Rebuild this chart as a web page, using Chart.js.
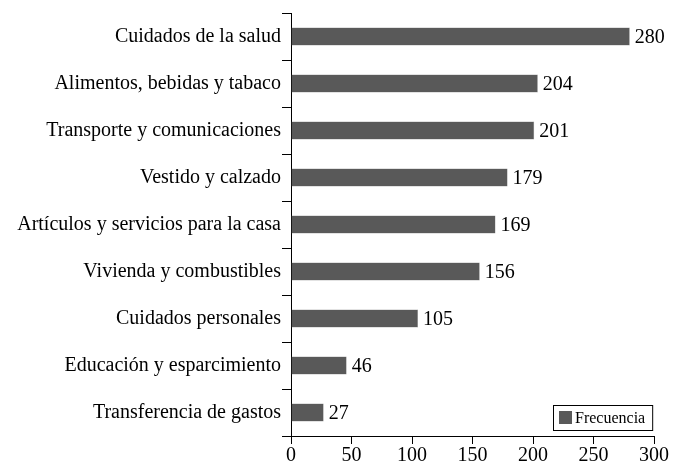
<!DOCTYPE html>
<html>
<head>
<meta charset="utf-8">
<script src="https://cdn.jsdelivr.net/npm/chart.js@4/dist/chart.umd.min.js"></script>
<style>
  html, body { margin: 0; padding: 0; background: #fff; }
  #wrap { width: 683px; height: 464px; }
</style>
</head>
<body>
<div id="wrap"><canvas id="gastosChart" width="683" height="464"></canvas></div>
<script>
const categories = [
    "Cuidados de la salud",
    "Alimentos, bebidas y tabaco",
    "Transporte y comunicaciones",
    "Vestido y calzado",
    "Artículos y servicios para la casa",
    "Vivienda y combustibles",
    "Cuidados personales",
    "Educación y esparcimiento",
    "Transferencia de gastos",
];
const frecuencia = [280, 204, 201, 179, 169, 156, 105, 46, 27];
const xTicks = [0, 50, 100, 150, 200, 250, 300];

const FONT = "'Liberation Serif', 'Times New Roman', serif";

// value labels at the end of each bar
const valueLabels = {
    id: "valueLabels",
    afterDatasetsDraw(chart) {
        const ctx = chart.ctx;
        const meta = chart.getDatasetMeta(0);
        ctx.save();
        ctx.font = "20px " + FONT;
        ctx.fillStyle = "#000";
        ctx.textBaseline = "middle";
        ctx.textAlign = "left";
        meta.data.forEach((bar, i) => {
            ctx.fillText(String(frecuencia[i]), bar.x + 5, bar.y + 1);
        });
        ctx.restore();
    }
};

// boxed legend inside the plot, bottom right
const boxLegend = {
    id: "boxLegend",
    afterDraw(chart) {
        const ctx = chart.ctx;
        const area = chart.chartArea;
        const ds = chart.data.datasets[0];
        ctx.save();
        ctx.font = "16px " + FONT;
        const tw = ctx.measureText(ds.label).width;
        const w = tw + 29, h = 25;
        const x = Math.round(area.right - 2 - w), y = Math.round(area.bottom - 6 - h);
        ctx.fillStyle = "#fff";
        ctx.fillRect(x, y, w, h);
        ctx.strokeStyle = "#000";
        ctx.lineWidth = 1;
        ctx.strokeRect(x + 0.5, y + 0.5, w, h);
        ctx.fillStyle = ds.backgroundColor;
        ctx.fillRect(x + 6, y + 6, 13, 13);
        ctx.fillStyle = "#000";
        ctx.textBaseline = "middle";
        ctx.fillText(ds.label, x + 22, y + h / 2 + 1);
        ctx.restore();
    }
};

const ctx = document.getElementById("gastosChart").getContext("2d");

new Chart(ctx, {
    type: "bar",
    data: {
        labels: categories,
        datasets: [
            {
                label: "Frecuencia",
                data: frecuencia,
                backgroundColor: "#595959",
                borderColor: "#8a8a8a",
                borderWidth: 0.5,
                barPercentage: 0.77,
                categoryPercentage: 0.5,
            },
        ],
    },
    options: {
        indexAxis: "y",
        responsive: false,
        animation: false,
        layout: {
            padding: { top: 12, right: 29, left: 0, bottom: 0 },
        },
        scales: {
            x: {
                min: 0,
                max: 300,
                afterBuildTicks: (scale) => {
                    scale.ticks = xTicks.map((v) => ({ value: v }));
                },
                afterFit: (scale) => {
                    scale.height = 28;
                },
                grid: {
                    drawOnChartArea: false,
                    drawTicks: true,
                    tickLength: 8,
                    color: "#000",
                },
                border: { color: "#000", width: 1 },
                ticks: {
                    color: "#000",
                    padding: 0,
                    maxRotation: 0,
                    font: { family: FONT, size: 20 },
                },
            },
            y: {
                afterFit: (scale) => {
                    scale.width = 291;
                },
                grid: {
                    drawOnChartArea: false,
                    drawTicks: true,
                    tickLength: 9,
                    color: "#000",
                    offset: true,
                },
                border: { color: "#000", width: 1 },
                ticks: {
                    color: "#000",
                    padding: 1,
                    font: { family: FONT, size: 20 },
                },
            },
        },
        plugins: {
            legend: { display: false },
            tooltip: { enabled: false },
        },
    },
    plugins: [valueLabels, boxLegend],
});
</script>
</body>
</html>
